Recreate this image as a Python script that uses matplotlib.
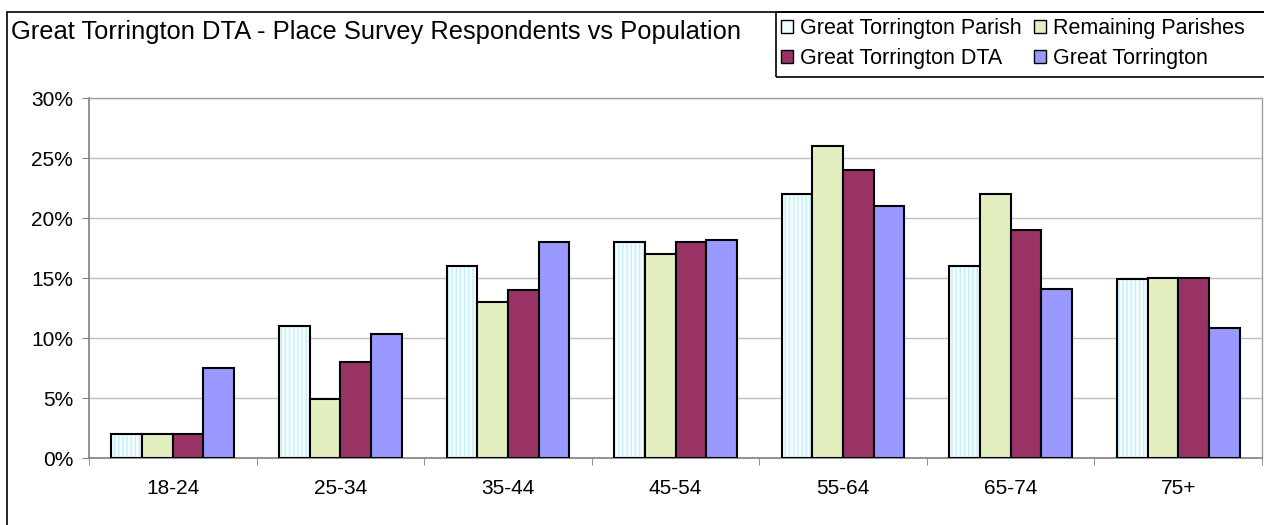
import matplotlib
matplotlib.use("Agg")
import matplotlib.pyplot as plt
from matplotlib.patches import Rectangle, Patch
import numpy as np

plt.rcParams['font.family'] = ['Liberation Sans', 'DejaVu Sans']
plt.rcParams['hatch.linewidth'] = 1.0

categories = ["18-24", "25-34", "35-44", "45-54", "55-64", "65-74", "75+"]
series_names = ["Great Torrington Parish", "Remaining Parishes", "Great Torrington DTA", "Great Torrington"]
parish = [2.0, 11.0, 16.0, 18.0, 22.0, 16.0, 14.9]
remaining = [2.0, 4.9, 13.0, 17.0, 26.0, 22.0, 15.0]
dta = [2.0, 8.0, 14.0, 18.0, 24.0, 19.0, 15.0]
torrington = [7.5, 10.3, 18.0, 18.2, 21.0, 14.1, 10.8]
yticks = [0, 5, 10, 15, 20, 25, 30]
title = "Great Torrington DTA - Place Survey Respondents vs Population"

colors = ["#F2FCFF", "#E3EFC0", "#993366", "#9999FF"]

W, H = 1264, 525
fig = plt.figure(figsize=(W / 100, H / 100), dpi=100)


def fx(px):
    return px / W


def fy(py):
    return 1 - py / H


# outer chart border
fig.patches.append(Rectangle((fx(7), -0.05), 1.1, fy(12) + 0.05,
                             transform=fig.transFigure, fill=False,
                             edgecolor="black", linewidth=1.2, zorder=0))
# legend box
fig.patches.append(Rectangle((fx(776), fy(77)), 1.1, fy(12) - fy(77),
                             transform=fig.transFigure, fill=False,
                             edgecolor="black", linewidth=1.2, zorder=0))

ax = fig.add_axes([fx(89), fy(458), 1173 / W, 360 / H])
x = np.arange(len(categories))
bw = 0.183
offsets = np.array([-1.5, -0.5, 0.5, 1.5]) * bw
data = [parish, remaining, dta, torrington]

for i, (vals, col) in enumerate(zip(data, colors)):
    if i == 0:
        ax.bar(x + offsets[i], vals, bw, color=col, hatch="||||",
               edgecolor="#C9EEF7", linewidth=0, zorder=2)
        ax.bar(x + offsets[i], vals, bw, fill=False, edgecolor="black",
               linewidth=1.5, zorder=3)
    else:
        ax.bar(x + offsets[i], vals, bw, color=col, edgecolor="black",
               linewidth=1.5, zorder=3)

ax.set_xlim(-0.5, len(categories) - 0.5)
ax.set_ylim(0, 30)
ax.set_yticks(yticks)
ax.set_yticklabels([f"{t}%" for t in yticks], fontsize=15)
ax.yaxis.grid(True, color="#C0C0C0", linewidth=1.0, zorder=0)
ax.set_axisbelow(True)
ax.set_xticks(x)
ax.set_xticklabels(categories, fontsize=15)
ax.tick_params(axis="x", length=0, pad=15)
ax.set_xticks(np.arange(len(categories) + 1) - 0.5, minor=True)
ax.tick_params(axis="x", which="minor", length=5, color="#808080", direction="out")
ax.tick_params(axis="y", length=5, color="#808080", direction="out", pad=6.5)
for s in ["left", "bottom"]:
    ax.spines[s].set_color("#808080")
    ax.spines[s].set_linewidth(1.2)
for s in ["top", "right"]:
    ax.spines[s].set_color("#A0A0A0")
    ax.spines[s].set_linewidth(1.0)

fig.text(fx(11), fy(32), title, fontsize=18.4, ha="left", va="center")

handles = [Patch(facecolor=colors[0], edgecolor="black", linewidth=1.0),
           Patch(facecolor=colors[2], edgecolor="black", linewidth=1.0),
           Patch(facecolor=colors[1], edgecolor="black", linewidth=1.0),
           Patch(facecolor=colors[3], edgecolor="black", linewidth=1.0)]
labels = [series_names[0], series_names[2], series_names[1], series_names[3]]
leg = fig.legend(handles, labels, ncol=2, loc="upper left",
                 bbox_to_anchor=(fx(775), fy(12)), fontsize=15.5,
                 frameon=False,
                 handlelength=0.55, handleheight=0.55, handletextpad=0.3,
                 columnspacing=0.6, labelspacing=0.4, borderpad=0.3,
                 borderaxespad=0)

fig.savefig("out.png", dpi=100)
